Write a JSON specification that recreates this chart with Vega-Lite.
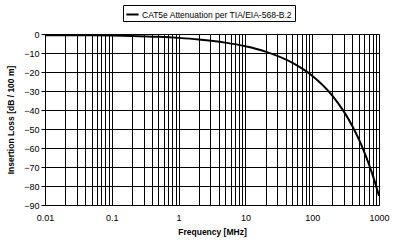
{
  "$schema": "https://vega.github.io/schema/vega-lite/v6.json",
  "width": 334,
  "height": 171,
  "autosize": "none",
  "padding": {"left": 45, "top": 34, "right": 21, "bottom": 44},
  "background": "white",
  "config": {
    "font": "Liberation Sans",
    "view": {"stroke": null},
    "axis": {
      "gridColor": "black", "gridOpacity": 1, "gridWidth": 1,
      "domainColor": "black", "tickColor": "black",
      "labelColor": "black", "titleColor": "black",
      "labelFont": "Liberation Sans", "titleFont": "Liberation Sans",
      "labelFontSize": 9, "titleFontSize": 8.5, "titleFontWeight": "bold"
    }
  },
  "data": {
    "values": [
      {"f": 0.01, "loss": -0.70, "series": "CAT5e Attenuation per TIA/EIA-568-B.2"},
      {"f": 0.02, "loss": -0.63, "series": "CAT5e Attenuation per TIA/EIA-568-B.2"},
      {"f": 0.05, "loss": -0.66, "series": "CAT5e Attenuation per TIA/EIA-568-B.2"},
      {"f": 0.1, "loss": -0.78, "series": "CAT5e Attenuation per TIA/EIA-568-B.2"},
      {"f": 0.2, "loss": -1.0, "series": "CAT5e Attenuation per TIA/EIA-568-B.2"},
      {"f": 0.5, "loss": -1.47, "series": "CAT5e Attenuation per TIA/EIA-568-B.2"},
      {"f": 1, "loss": -2.04, "series": "CAT5e Attenuation per TIA/EIA-568-B.2"},
      {"f": 2, "loss": -2.86, "series": "CAT5e Attenuation per TIA/EIA-568-B.2"},
      {"f": 5, "loss": -4.54, "series": "CAT5e Attenuation per TIA/EIA-568-B.2"},
      {"f": 10, "loss": -6.47, "series": "CAT5e Attenuation per TIA/EIA-568-B.2"},
      {"f": 20, "loss": -9.27, "series": "CAT5e Attenuation per TIA/EIA-568-B.2"},
      {"f": 50, "loss": -15.07, "series": "CAT5e Attenuation per TIA/EIA-568-B.2"},
      {"f": 100, "loss": -21.98, "series": "CAT5e Attenuation per TIA/EIA-568-B.2"},
      {"f": 200, "loss": -32.42, "series": "CAT5e Attenuation per TIA/EIA-568-B.2"},
      {"f": 300, "loss": -40.97, "series": "CAT5e Attenuation per TIA/EIA-568-B.2"},
      {"f": 400, "loss": -48.54, "series": "CAT5e Attenuation per TIA/EIA-568-B.2"},
      {"f": 500, "loss": -55.48, "series": "CAT5e Attenuation per TIA/EIA-568-B.2"},
      {"f": 600, "loss": -61.98, "series": "CAT5e Attenuation per TIA/EIA-568-B.2"},
      {"f": 700, "loss": -68.14, "series": "CAT5e Attenuation per TIA/EIA-568-B.2"},
      {"f": 800, "loss": -74.04, "series": "CAT5e Attenuation per TIA/EIA-568-B.2"},
      {"f": 900, "loss": -79.71, "series": "CAT5e Attenuation per TIA/EIA-568-B.2"},
      {"f": 1000, "loss": -85.2, "series": "CAT5e Attenuation per TIA/EIA-568-B.2"}
    ]
  },
  "mark": {"type": "line", "strokeWidth": 2, "interpolate": "monotone"},
  "encoding": {
    "x": {
      "field": "f", "type": "quantitative",
      "scale": {"type": "log", "domain": [0.01, 1000], "nice": false},
      "axis": {
        "title": "Frequency [MHz]",
        "values": [0.01,0.02,0.03,0.04,0.05,0.06,0.07,0.08,0.09,0.1,0.2,0.3,0.4,0.5,0.6,0.7,0.8,0.9,1,2,3,4,5,6,7,8,9,10,20,30,40,50,60,70,80,90,100,200,300,400,500,600,700,800,900,1000],
        "labelExpr": "abs(log(datum.value)/LN10 - round(log(datum.value)/LN10)) < 1e-6 ? format(datum.value, '~g') : ''",
        "tickSize": 0,
        "labelPadding": 8,
        "titlePadding": 5,
        "labelFlush": false
      }
    },
    "y": {
      "field": "loss", "type": "quantitative",
      "scale": {"domain": [-90, 0], "nice": false},
      "axis": {
        "title": "Insertion Loss [dB / 100 m]",
        "values": [-90,-80,-70,-60,-50,-40,-30,-20,-10,0],
        "tickSize": 4,
        "labelPadding": 2,
        "titlePadding": 8
      }
    },
    "color": {
      "field": "series", "type": "nominal",
      "scale": {"range": ["black"]},
      "legend": {
        "title": null,
        "orient": "none",
        "legendX": 78,
        "legendY": -29,
        "strokeColor": "black",
        "fillColor": "white",
        "padding": 2,
        "symbolType": "stroke",
        "symbolStrokeWidth": 2,
        "symbolSize": 150,
        "labelFont": "Liberation Sans",
        "labelFontSize": 8.5,
        "labelColor": "black",
        "labelOffset": 2
      }
    }
  }
}
